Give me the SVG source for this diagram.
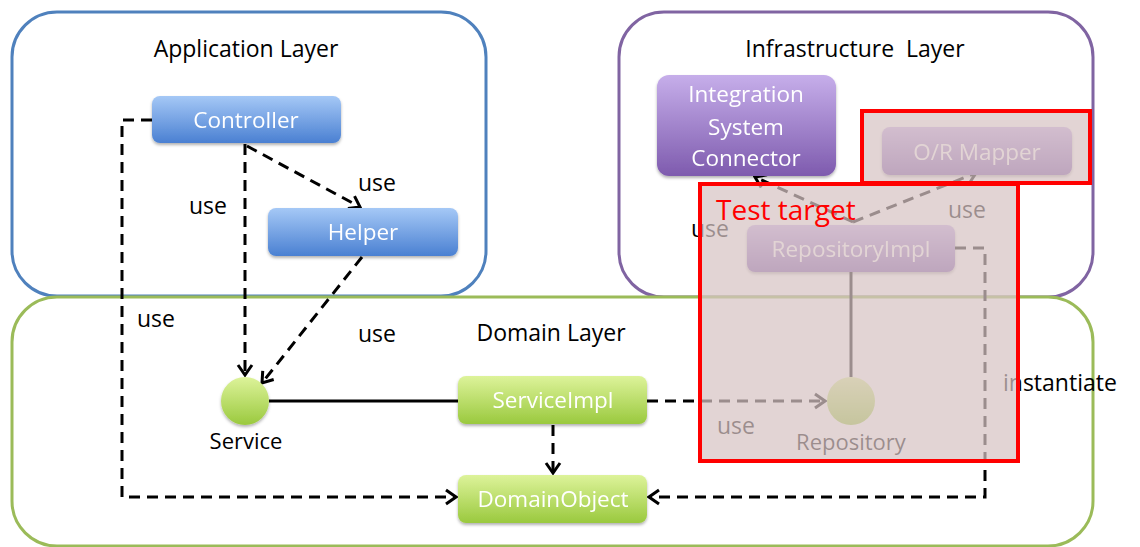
<svg xmlns="http://www.w3.org/2000/svg" width="1140" height="547" viewBox="0 0 1140 547">
<style>
.lbl{font-family:"Open Sans","Liberation Sans",sans-serif;font-size:23px;fill:#000;text-anchor:middle}
.ntxt{font-family:"Open Sans","Liberation Sans",sans-serif;font-size:22.5px;fill:#fff;text-anchor:middle}
.layer{fill:#fff;stroke-width:3}
.dash{fill:none;stroke:#000;stroke-width:3;stroke-dasharray:11 7}
.solid{fill:none;stroke:#000;stroke-width:3}
</style>
<defs>
<linearGradient id="gb" x1="0" y1="0" x2="0" y2="1"><stop offset="0" stop-color="#A5C8F6"/><stop offset="1" stop-color="#4A80D2"/></linearGradient>
<linearGradient id="gg" x1="0" y1="0" x2="0" y2="1"><stop offset="0" stop-color="#DDF39A"/><stop offset="1" stop-color="#9AC93E"/></linearGradient>
<linearGradient id="gp" x1="0" y1="0" x2="0" y2="1"><stop offset="0" stop-color="#C6AEEA"/><stop offset="1" stop-color="#7E5BAE"/></linearGradient>
<filter id="sh" x="-10%" y="-10%" width="120%" height="130%"><feDropShadow dx="0" dy="2" stdDeviation="1.5" flood-color="#000" flood-opacity="0.3"/></filter>
<marker id="arr" markerUnits="userSpaceOnUse" markerWidth="20" markerHeight="20" viewBox="0 0 20 20" refX="18" refY="10" orient="auto"><polyline points="8,3 18,10 8,17" fill="none" stroke="#000" stroke-width="3"/></marker>
</defs>
<rect width="1140" height="547" fill="#fff"/>
<g id="app-layer"><rect class="layer" x="12" y="12" width="474" height="284" rx="45" stroke="#4F81BD"/><text class="lbl" x="246" y="57">Application Layer</text></g>
<g id="infra-layer"><rect class="layer" x="619" y="12" width="474" height="285" rx="45" stroke="#8064A2"/><text class="lbl" x="855" y="57" xml:space="preserve">Infrastructure  Layer</text></g>
<g id="domain-layer"><rect class="layer" x="12" y="297" width="1081" height="249" rx="45" stroke="#9BBB59" fill="none"/><text class="lbl" x="551" y="341">Domain Layer</text></g>
<g id="connectors">
<polyline class="dash" points="152,120 122,120 122,497 456,497" marker-end="url(#arr)"/>
<line class="dash" x1="245" y1="144" x2="245" y2="375" marker-end="url(#arr)"/>
<line class="dash" x1="247" y1="146" x2="360" y2="207" marker-end="url(#arr)"/>
<line class="dash" x1="362" y1="257" x2="262" y2="383" marker-end="url(#arr)"/>
<line class="solid" x1="269" y1="401" x2="458" y2="401"/>
<line class="dash" x1="553" y1="425" x2="553" y2="473" marker-end="url(#arr)"/>
<line class="dash" x1="647" y1="401" x2="825" y2="401" marker-end="url(#arr)"/>
<line class="solid" x1="851" y1="272" x2="851" y2="377"/>
<polyline class="dash" points="955,248 985,248 985,497 649,497" marker-end="url(#arr)"/>
<line class="dash" x1="853" y1="222" x2="755" y2="177" marker-end="url(#arr)"/>
<line class="dash" x1="853" y1="222" x2="976" y2="173" marker-end="url(#arr)"/>
</g>
<g id="labels">
<text class="lbl" x="208" y="214">use</text>
<text class="lbl" x="377" y="191">use</text>
<text class="lbl" x="156" y="327">use</text>
<text class="lbl" x="377" y="342">use</text>
<text class="lbl" x="710" y="237">use</text>
<text class="lbl" x="967" y="218">use</text>
<text class="lbl" x="736" y="434">use</text>
<text class="lbl" x="1003" y="391" style="text-anchor:start">instantiate</text>
</g>
<g id="controller" filter="url(#sh)"><rect x="152" y="96" width="189" height="47" rx="8" fill="url(#gb)"/><text class="ntxt" x="246" y="128">Controller</text></g>
<g id="helper" filter="url(#sh)"><rect x="268" y="208" width="190" height="48" rx="8" fill="url(#gb)"/><text class="ntxt" x="363" y="240">Helper</text></g>
<g id="service"><circle cx="245" cy="401" r="24" fill="url(#gg)" filter="url(#sh)"/><text class="lbl" x="246" y="449" style="font-size:22px">Service</text></g>
<g id="serviceimpl" filter="url(#sh)"><rect x="458" y="376" width="189" height="48" rx="8" fill="url(#gg)"/><text class="ntxt" x="553" y="408">ServiceImpl</text></g>
<g id="domainobject" filter="url(#sh)"><rect x="458" y="475" width="189" height="48" rx="8" fill="url(#gg)"/><text class="ntxt" x="553" y="507">DomainObject</text></g>
<g id="integration" filter="url(#sh)"><rect x="657" y="75" width="179" height="101" rx="12" fill="url(#gp)"/><text class="ntxt" x="746" y="102">Integration</text><text class="ntxt" x="746" y="135">System</text><text class="ntxt" x="746" y="166">Connector</text></g>
<g id="ormapper" filter="url(#sh)"><rect x="882" y="127" width="190" height="48" rx="8" fill="url(#gp)"/><text class="ntxt" x="977" y="160">O/R Mapper</text></g>
<g id="repositoryimpl" filter="url(#sh)"><rect x="747" y="225" width="208" height="47" rx="8" fill="url(#gp)"/><text class="ntxt" x="851" y="257">RepositoryImpl</text></g>
<g id="repository"><circle cx="851" cy="401" r="24" fill="url(#gg)"/><text class="lbl" x="851" y="450" style="font-size:22px">Repository</text></g>
<g id="test-target">
<rect x="862" y="111" width="228" height="72" fill="rgb(215,195,195)" fill-opacity="0.72" stroke="#FF0000" stroke-width="4"/>
<rect x="700" y="184" width="318" height="277" fill="rgb(215,195,195)" fill-opacity="0.72" stroke="#FF0000" stroke-width="4"/>
<text x="716" y="220" style="font-family:'Open Sans','Liberation Sans',sans-serif;font-size:28px;fill:#FF0000">Test target</text>
</g>
</svg>
